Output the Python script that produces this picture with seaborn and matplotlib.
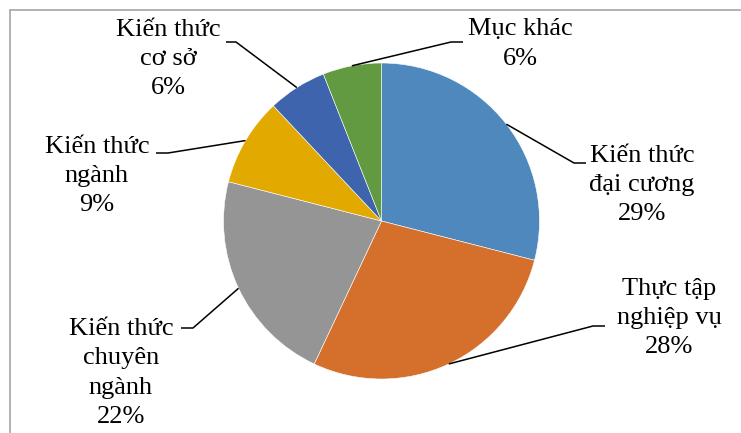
import numpy as np
import matplotlib
matplotlib.use("Agg")
import matplotlib.pyplot as plt
import seaborn as sns
from matplotlib.lines import Line2D

sns.set_theme(style="white")
plt.rcParams['font.family'] = ['Liberation Serif', 'DejaVu Serif']

categories = ["Kiến thức\nđại cương", "Thực tập\nnghiệp vụ", "Kiến thức\nchuyên\nngành",
              "Kiến thức\nngành", "Kiến thức\ncơ sở", "Mục khác"]
values = [29, 28, 22, 9, 6, 6]
colors = ["#4F88BD", "#D46F2C", "#959595", "#E2A900", "#3D64AD", "#629A41"]

# layout (pixel coords, y measured from top)
W, H = 741, 433
cx, cy, R = 381.5, 221, 158
label_pos = [(642, 185), (669, 318), (121, 373), (97, 176), (168, 59), (520, 44)]
elbow = [(574, 163), (593, 326), (193, 328), (168, 153), (236, 42), (451, 42)]
tail = [(586, 163), (605, 326), (181, 328), (156, 153), (226, 42), (463, 42)]

fig = plt.figure(figsize=(W / 100, H / 100), dpi=100)
ax = fig.add_axes([0, 0, 1, 1])
wedges, _ = ax.pie(values, colors=colors, startangle=90, counterclock=False,
                   center=(cx, H - cy), radius=R, frame=True,
                   wedgeprops=dict(edgecolor="white", linewidth=0.4))
ax.set_xlim(0, W)
ax.set_ylim(0, H)
ax.set_aspect("equal")
ax.axis("off")

total = sum(values)
for i, (w, lab, v) in enumerate(zip(wedges, categories, values)):
    mid = np.deg2rad((w.theta1 + w.theta2) / 2)
    px = cx + R * np.cos(mid)
    py = (H - cy) + R * np.sin(mid)
    ex, ey = elbow[i]
    tx, ty = tail[i]
    ax.plot([px, ex, tx], [py, H - ey, H - ty], color="black", lw=1.1,
            solid_capstyle="butt")
    lx, ly = label_pos[i]
    ax.text(lx, H - ly, f"{lab}\n{round(100 * v / total)}%", ha="center", va="center",
            fontsize=19, linespacing=1.42, color="black",
            family=["Liberation Serif", "DejaVu Serif"])

# outer frame lines
fig.add_artist(Line2D([10 / W, 1], [1 - 9.5 / H, 1 - 9.5 / H], color="#A6A6A6", lw=1.2))
fig.add_artist(Line2D([10 / W, 10 / W], [0, 1 - 9.5 / H], color="#A6A6A6", lw=1.2))

fig.savefig("out.png", dpi=100)
